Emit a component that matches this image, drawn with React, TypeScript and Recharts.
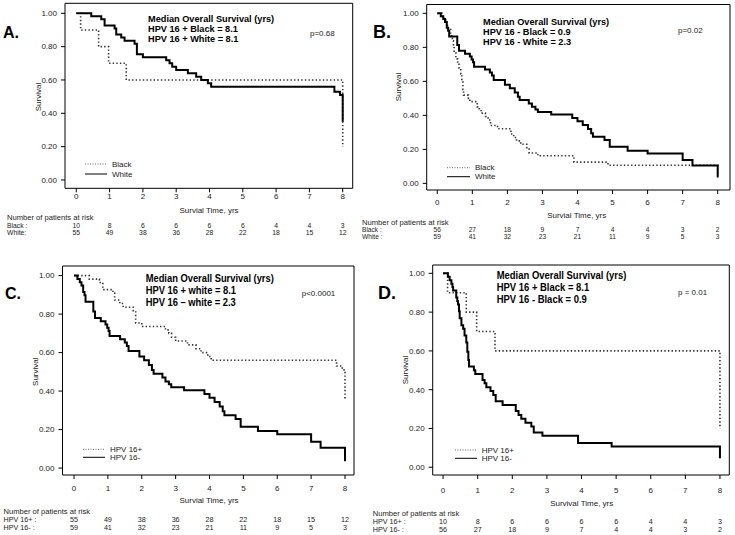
import React from "react";
import { LineChart, Line, XAxis, YAxis, ReferenceArea } from "recharts";

// ---------- data ----------
const T_TICKS = [0, 1, 2, 3, 4, 5, 6, 7, 8];
const Y_TICKS = [0, 0.2, 0.4, 0.6, 0.8, 1];

// HPV16+ White cohort (n=55)
const posWhiteTime = [0, 0.45, 0.75, 0.85, 1.15, 1.2, 1.35, 1.45, 1.75, 1.82, 2.0, 2.7, 2.8, 2.88, 3.0, 3.35, 3.6, 3.75, 3.95, 4.05, 7.75, 7.92, 8.0];
const posWhiteSurv = [1, 0.982, 0.964, 0.927, 0.909, 0.873, 0.855, 0.836, 0.818, 0.754, 0.736, 0.718, 0.7, 0.68, 0.66, 0.64, 0.62, 0.6, 0.58, 0.56, 0.53, 0.51, 0.35];

// HPV16+ Black cohort (n=10)
const posBlackTime = [0, 0.13, 0.67, 0.97, 1.5, 8.0];
const posBlackSurv = [1, 0.9, 0.8, 0.7, 0.6, 0.2];

// HPV16- White cohort (n=59)
const negWhiteTime = [0, 0.1, 0.17, 0.22, 0.27, 0.31, 0.34, 0.57, 0.62, 0.79, 0.93, 0.98, 1.02, 1.05, 1.36, 1.5, 1.56, 1.61, 1.93, 2.07, 2.21, 2.3, 2.35, 2.61, 2.7, 2.8, 2.87, 3.25, 3.85, 4.0, 4.15, 4.3, 4.39, 4.44, 4.77, 4.92, 5.43, 6.0, 7.0, 7.28, 8.0];
const negWhiteSurv = [1, 0.983, 0.966, 0.949, 0.915, 0.898, 0.864, 0.814, 0.78, 0.763, 0.746, 0.729, 0.712, 0.686, 0.669, 0.652, 0.634, 0.608, 0.58, 0.56, 0.535, 0.51, 0.49, 0.47, 0.45, 0.435, 0.42, 0.405, 0.385, 0.365, 0.343, 0.32, 0.295, 0.274, 0.255, 0.215, 0.192, 0.176, 0.137, 0.105, 0.035];

// HPV16- Black cohort (n=56)
const negBlackTime = [0, 0.14, 0.19, 0.24, 0.27, 0.29, 0.38, 0.41, 0.43, 0.46, 0.48, 0.53, 0.58, 0.62, 0.67, 0.7, 0.73, 0.75, 0.89, 0.93, 1.14, 1.2, 1.25, 1.37, 1.45, 1.52, 1.72, 2.1, 2.18, 2.26, 2.38, 2.55, 2.62, 2.87, 3.9, 4.87, 8.0];
const negBlackSurv = [1, 0.982, 0.964, 0.946, 0.929, 0.911, 0.875, 0.857, 0.839, 0.804, 0.768, 0.732, 0.714, 0.679, 0.643, 0.596, 0.553, 0.519, 0.5, 0.481, 0.45, 0.433, 0.413, 0.393, 0.373, 0.34, 0.321, 0.29, 0.27, 0.25, 0.23, 0.21, 0.179, 0.162, 0.125, 0.107, 0.046];

// numbers at risk
const riskPosBlack = [10, 8, 6, 6, 6, 6, 4, 4, 3];
const riskPosWhite = [55, 49, 38, 36, 28, 22, 18, 15, 12];
const riskNegBlack = [56, 27, 18, 9, 7, 4, 4, 3, 2];
const riskNegWhite = [59, 41, 32, 23, 21, 11, 9, 5, 3];

const toSeries = (ts: number[], ss: number[]) => ts.map((t, i) => ({ t, s: ss[i] }));

const posWhite = toSeries(posWhiteTime, posWhiteSurv);
const posBlack = toSeries(posBlackTime, posBlackSurv);
const negWhite = toSeries(negWhiteTime, negWhiteSurv);
const negBlack = toSeries(negBlackTime, negBlackSurv);

// ---------- layout ----------
const FONT = '"Liberation Sans", Arial, Helvetica, sans-serif';
const TXT = "#222";

type Cfg = {
  letter: string; letterX: number; letterY: number; letterSize: number;
  box: { l: number; t: number; r: number; b: number };
  xDom: [number, number]; yDom: [number, number];
  title: string[]; titleX: number; titleY: number[]; titleScale: number; titleSize: number;
  p: string; pX: number; pY: number;
  legend: string[]; legX1: number; legX2: number; legTextX: number; legY: number[];
  yLabX: number; yLabY: number;
  xLab: string; xLabX: number; xLabY: number;
  tickY: number;
  riskX: number; riskHeadY: number; riskRowY: number[]; riskSize: number; riskLabels: string[]; riskRows: number[][];
  dotted: { t: number; s: number }[]; solid: { t: number; s: number }[];
};

const panels: Cfg[] = [
  {
    letter: "A.", letterX: 3, letterY: 32, letterSize: 16,
    box: { l: 65, t: 3.3, r: 352.7, b: 188.3 },
    xDom: [-0.339, 8.3], yDom: [-0.05, 1.06],
    title: ["Median Overall Survival (yrs)", "HPV 16 + Black = 8.1", "HPV 16 + White = 8.1"],
    titleX: 148, titleY: [19, 29, 39], titleScale: 1, titleSize: 9.2,
    p: "p=0.68", pX: 310, pY: 33,
    legend: ["Black", "White"], legX1: 85, legX2: 107, legTextX: 112, legY: [164, 174],
    yLabX: 38, yLabY: 97,
    xLab: "Survial Time, yrs", xLabX: 209, xLabY: 210.7,
    tickY: 196.7,
    riskX: 7, riskHeadY: 217.3, riskRowY: [225, 232.3], riskSize: 6.8, riskLabels: ["Black :", "White:"], riskRows: [riskPosBlack, riskPosWhite],
    dotted: posBlack, solid: posWhite,
  },
  {
    letter: "B.", letterX: 373, letterY: 32, letterSize: 18,
    box: { l: 426.7, t: 4.5, r: 730, b: 190 },
    xDom: [-0.302, 8.351], yDom: [-0.039, 1.052],
    title: ["Median Overall Survival (yrs)", "HPV 16 - Black = 0.9", "HPV 16 - White = 2.3"],
    titleX: 483, titleY: [21.7, 31.7, 41.7], titleScale: 1, titleSize: 9.2,
    p: "p=0.02", pX: 678, pY: 30,
    legend: ["Black", "White"], legX1: 447, legX2: 470, legTextX: 475, legY: [167.7, 176.7],
    yLabX: 398, yLabY: 87,
    xLab: "Survial Time, yrs", xLabX: 576.7, xLabY: 215,
    tickY: 202,
    riskX: 362, riskHeadY: 222.3, riskRowY: [229.6, 236.4], riskSize: 6.6, riskLabels: ["Black :", "White :"], riskRows: [riskNegBlack, riskNegWhite],
    dotted: negBlack, solid: negWhite,
  },
  {
    letter: "C.", letterX: 5, letterY: 293.3, letterSize: 16,
    box: { l: 62.5, t: 266, r: 354, b: 475 },
    xDom: [-0.34, 8.266], yDom: [-0.036, 1.05],
    title: ["Median Overall Survival (yrs)", "HPV 16 + white = 8.1", "HPV 16 \u2013 white = 2.3"],
    titleX: 145.7, titleY: [278.3, 290.7, 302.7], titleScale: 0.85, titleSize: 11,
    p: "p<0.0001", pX: 301.7, pY: 293.3,
    legend: ["HPV 16+", "HPV 16-"], legX1: 83, legX2: 105, legTextX: 110, legY: [449.3, 457.3],
    yLabX: 36, yLabY: 371.7,
    xLab: "Survial Time, yrs", xLabX: 209, xLabY: 500.7,
    tickY: 488.5,
    riskX: 3.5, riskHeadY: 511, riskRowY: [519.5, 527], riskSize: 7.2, riskLabels: ["HPV 16+ :", "HPV 16- :"], riskRows: [riskPosWhite, riskNegWhite],
    dotted: posWhite, solid: negWhite,
  },
  {
    letter: "D.", letterX: 378, letterY: 293.3, letterSize: 18,
    box: { l: 432.7, t: 265, r: 729.3, b: 475 },
    xDom: [-0.30, 8.27], yDom: [-0.04, 1.043],
    title: ["Median Overall Survival (yrs)", "HPV 16 + Black = 8.1", "HPV 16 - Black = 0.9"],
    titleX: 496.7, titleY: [275.5, 287.5, 299.5], titleScale: 0.86, titleSize: 11,
    p: "p = 0.01", pX: 678, pY: 292.7,
    legend: ["HPV 16+", "HPV 16-"], legX1: 455, legX2: 477, legTextX: 481.7, legY: [450, 458.3],
    yLabX: 405, yLabY: 370,
    xLab: "Survival Time, yrs", xLabX: 581.7, xLabY: 503.3,
    tickY: 490,
    riskX: 372.7, riskHeadY: 513.3, riskRowY: [521.7, 529.3], riskSize: 7.2, riskLabels: ["HPV 16+ :", "HPV 16- :"], riskRows: [riskPosBlack, riskNegBlack],
    dotted: posBlack, solid: negBlack,
  },
];

const YAW = 40;
const XAH = 20;

function XTick(props: any) {
  const { x, payload, cfg } = props;
  const idx = T_TICKS.indexOf(payload.value);
  return (
    <g>
      <text x={x} y={cfg.tickY} textAnchor="middle" dominantBaseline="central" fontSize={8} fill={TXT} fontFamily={FONT}>
        {payload.value}
      </text>
      {cfg.riskRows.map((row: number[], i: number) => (
        <text key={i} x={x} y={cfg.riskRowY[i]} textAnchor="middle" dominantBaseline="central" fontSize={cfg.riskSize} fill={TXT} fontFamily={FONT}>
          {row[idx]}
        </text>
      ))}
    </g>
  );
}

function Panel({ cfg }: { cfg: Cfg }) {
  const { box, xDom, yDom } = cfg;
  const margin = { left: box.l - YAW, top: box.t, right: 735 - box.r, bottom: 535 - box.b - XAH };
  return (
    <div style={{ position: "absolute", left: 0, top: 0 }}>
      <LineChart width={735} height={535} margin={margin}>
        <XAxis
          type="number"
          dataKey="t"
          domain={xDom}
          allowDataOverflow
          ticks={T_TICKS}
          interval={0}
          tickSize={4}
          axisLine={false}
          tickLine={{ stroke: "#000" }}
          height={XAH}
          tick={(p: any) => <XTick {...p} cfg={cfg} />}
        />
        <YAxis
          type="number"
          domain={yDom}
          allowDataOverflow
          ticks={Y_TICKS}
          interval={0}
          tickSize={4}
          tickMargin={4}
          axisLine={false}
          tickLine={{ stroke: "#000" }}
          width={YAW}
          tick={{ fontSize: 8, fill: TXT, fontFamily: FONT }}
          tickFormatter={(v: number) => v.toFixed(2)}
        />
        <ReferenceArea x1={xDom[0]} x2={xDom[1]} y1={yDom[0]} y2={yDom[1]} fill="#fff" fillOpacity={0} stroke="#000" strokeWidth={1} />
        <Line data={cfg.dotted} dataKey="s" type="stepAfter" stroke="#333" strokeWidth={1.6} strokeDasharray="1.4 2.2" dot={false} activeDot={false} isAnimationActive={false} />
        <Line data={cfg.solid} dataKey="s" type="stepAfter" stroke="#000" strokeWidth={2} dot={false} activeDot={false} isAnimationActive={false} />
      </LineChart>
    </div>
  );
}

function Overlay() {
  return (
    <svg width={735} height={535} style={{ position: "absolute", left: 0, top: 0, pointerEvents: "none" }} fontFamily={FONT}>
      {panels.map((c, k) => (
        <g key={k}>
          <text x={c.letterX} y={c.letterY} dominantBaseline="central" fontSize={c.letterSize} fontWeight="bold" fill="#000">{c.letter}</text>
          {c.title.map((s, i) => (
            <text
              key={i}
              x={0}
              y={0}
              transform={`translate(${c.titleX} ${c.titleY[i]}) scale(${c.titleScale} 1)`}
              dominantBaseline="central"
              fontSize={c.titleSize}
              fontWeight="bold"
              fill="#000"
            >
              {s}
            </text>
          ))}
          <text x={c.pX} y={c.pY} dominantBaseline="central" fontSize={8} fill={TXT}>{c.p}</text>
          <line x1={c.legX1} x2={c.legX2} y1={c.legY[0]} y2={c.legY[0]} stroke="#666" strokeWidth={1} strokeDasharray="1 1.5" />
          <line x1={c.legX1} x2={c.legX2} y1={c.legY[1]} y2={c.legY[1]} stroke="#000" strokeWidth={1} />
          {c.legend.map((s, i) => (
            <text key={i} x={c.legTextX} y={c.legY[i]} dominantBaseline="central" fontSize={8} fill={TXT}>{s}</text>
          ))}
          <text x={c.yLabX} y={c.yLabY} textAnchor="middle" dominantBaseline="central" fontSize={8} fill={TXT} transform={`rotate(-90 ${c.yLabX} ${c.yLabY})`}>Survival</text>
          <text x={c.xLabX} y={c.xLabY} textAnchor="middle" dominantBaseline="central" fontSize={8} fill={TXT}>{c.xLab}</text>
          <text x={c.riskX} y={c.riskHeadY} dominantBaseline="central" fontSize={7.6} fill={TXT}>Number of patients at risk</text>
          {c.riskLabels.map((s, i) => (
            <text key={i} x={c.riskX} y={c.riskRowY[i]} dominantBaseline="central" fontSize={c.riskSize} fill={TXT}>{s}</text>
          ))}
        </g>
      ))}
    </svg>
  );
}

export default function App() {
  return (
    <div style={{ position: "absolute", left: 0, top: 0, width: 735, height: 535, background: "#fff", fontFamily: FONT }}>
      {panels.map((c, i) => (
        <Panel key={i} cfg={c} />
      ))}
      <Overlay />
    </div>
  );
}
